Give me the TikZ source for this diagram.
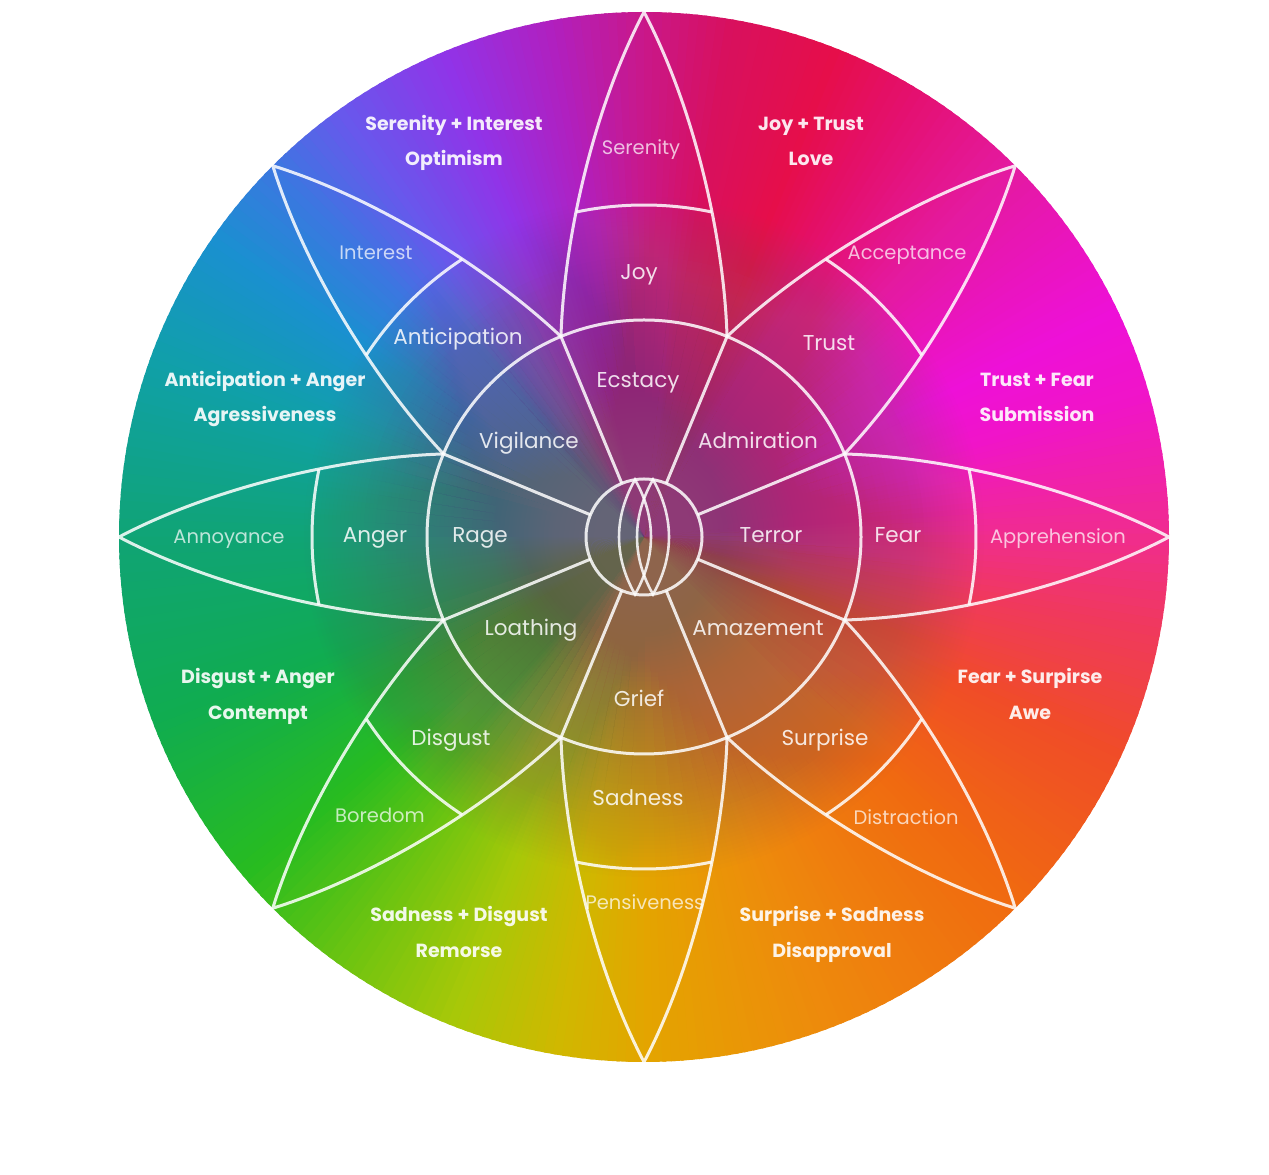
\documentclass[tikz,border=0pt]{standalone}
\usepackage{fontspec}
\setmainfont{Poppins}
\definecolor{c0}{HTML}{F02C90}
\definecolor{c15}{HTML}{F014C8}
\definecolor{c25}{HTML}{EE10D8}
\definecolor{c45}{HTML}{E41AA0}
\definecolor{c58}{HTML}{E41070}
\definecolor{c68}{HTML}{E60E4A}
\definecolor{c80}{HTML}{D8105E}
\definecolor{c90}{HTML}{C8188C}
\definecolor{c100}{HTML}{B020C0}
\definecolor{c112}{HTML}{9034E8}
\definecolor{c125}{HTML}{6858EC}
\definecolor{c135}{HTML}{3A78E0}
\definecolor{c145}{HTML}{1A90D0}
\definecolor{c160}{HTML}{10A0A8}
\definecolor{c180}{HTML}{10A474}
\definecolor{c200}{HTML}{10AC50}
\definecolor{c220}{HTML}{28BC20}
\definecolor{c235}{HTML}{70C410}
\definecolor{c248}{HTML}{A8C808}
\definecolor{c260}{HTML}{D0B800}
\definecolor{c270}{HTML}{E4A400}
\definecolor{c290}{HTML}{EE8A0C}
\definecolor{c315}{HTML}{F06A10}
\definecolor{c335}{HTML}{F04C28}
\definecolor{c350}{HTML}{F03860}
% smoothed hues for the blended centre
\definecolor{s0}{HTML}{F03870}
\definecolor{s45}{HTML}{E8208A}
\definecolor{s90}{HTML}{C02890}
\definecolor{s135}{HTML}{5060D0}
\definecolor{s180}{HTML}{10A080}
\definecolor{s225}{HTML}{50B030}
\definecolor{s270}{HTML}{E0A010}
\definecolor{s315}{HTML}{F06020}
\definecolor{cmix}{HTML}{8E6476}
\tikzset{
  wl/.style={draw=white, draw opacity=0.85, line width=3pt},
  lbl/.style={text=white, inner sep=0pt, anchor=mid, yshift=-5pt},
  outerlbl/.style={lbl, text opacity=0.9, font=\bfseries\fontsize{19}{23}\selectfont},
  petlbl/.style={lbl, text opacity=0.72, font=\fontsize{19.5}{23}\selectfont},
  midlbl/.style={lbl, text opacity=0.85, font=\fontsize{21.5}{26}\selectfont},
}
\begin{document}
\begin{tikzpicture}[x=1pt,y=1pt]
\useasboundingbox (0,0) rectangle (1269,1175);
\fill[white] (0,0) rectangle (1269,1175);
\begin{scope}[shift={(644,638)}]
  % conic colour wheel
  \foreach \a/\b/\ca/\cb in {0/15/c0/c15, 15/25/c15/c25, 25/45/c25/c45, 45/58/c45/c58,
      58/68/c58/c68, 68/80/c68/c80, 80/90/c80/c90, 90/100/c90/c100, 100/112/c100/c112,
      112/125/c112/c125, 125/135/c125/c135, 135/145/c135/c145, 145/160/c145/c160,
      160/180/c160/c180, 180/200/c180/c200, 200/220/c200/c220, 220/235/c220/c235,
      235/248/c235/c248, 248/260/c248/c260, 260/270/c260/c270, 270/290/c270/c290,
      290/315/c290/c315, 315/335/c315/c335, 335/350/c335/c350, 350/360/c350/c0}{
    \pgfmathtruncatemacro\n{\b-\a-1}
    \foreach \k in {0,...,\n}{
      \pgfmathsetmacro\p{100*\k/(\b-\a)}
      \pgfmathsetmacro\ang{\a+\k}
      \colorlet{wc}{\cb!\p!\ca}
      \fill[wc] (0,0) -- (\ang:525) arc[start angle=\ang, end angle=\ang+1.4, radius=525] -- cycle;
    }
  }
  % smoothed hues towards the centre
  \foreach \i in {1,...,26}{
    \pgfmathsetmacro\rr{\i*280/26}
    \foreach \a/\ca/\cb in {0/s0/s45, 45/s45/s90, 90/s90/s135, 135/s135/s180,
        180/s180/s225, 225/s225/s270, 270/s270/s315, 315/s315/s0}{
      \foreach \k in {0,...,14}{
        \pgfmathsetmacro\p{100*\k/15}
        \pgfmathsetmacro\ang{\a+3*\k}
        \colorlet{wc}{\cb!\p!\ca}
        \fill[wc, opacity=0.048] (0,0) -- (\ang:\rr) arc[start angle=\ang, end angle=\ang+3, radius=\rr] -- cycle;
      }
    }
  }
  % muted centre
  \foreach \i in {1,...,85}{
    \fill[cmix, opacity=0.0162] (0,0) circle[radius=4*\i];
  }
  \foreach \i in {1,...,30}{
    \fill[cmix, opacity=0.0242] (0,0) circle[radius=5*\i];
  }
  % circles and spokes
  \draw[wl] (0,0) circle[radius=217];
  \draw[wl] (0,0) circle[radius=58];
  \foreach \t in {22.5,67.5,...,337.5}{
    \draw[wl] (\t:58) -- (\t:217);
  }
  % petals and dividers
  \foreach \pa in {0,45,...,315}{
    \begin{scope}[rotate=\pa]
      \draw[wl] (200.48,83.04) .. controls (300,80) and (430,50) .. (525,0)
                .. controls (430,-50) and (300,-80) .. (200.48,-83.04);
      \draw[wl] (-11.8:332) arc[start angle=-11.8, end angle=11.8, radius=332];
    \end{scope}
  }
  % central lenses
  \foreach \cx in {-9,9}{
    \draw[wl, line width=2.6pt] (\cx,57.3) .. controls (\cx-21.3,20) and (\cx-21.3,-20) .. (\cx,-57.3)
          .. controls (\cx+21.3,-20) and (\cx+21.3,20) .. (\cx,57.3) -- cycle;
  }
  % outer combination labels
  \node[outerlbl] (o1a) at (-190,414) {Serenity + Interest};
  \node[outerlbl] (o1b) at (-190,379) {Optimism};
  \node[outerlbl] (o2a) at (167,414) {Joy + Trust};
  \node[outerlbl] (o2b) at (167,379) {Love};
  \node[outerlbl] (o3a) at (-379,158) {Anticipation + Anger};
  \node[outerlbl] (o3b) at (-379,123) {Agressiveness};
  \node[outerlbl] (o4a) at (393,158) {Trust + Fear};
  \node[outerlbl] (o4b) at (393,123) {Submission};
  \node[outerlbl] (o5a) at (-386,-139) {Disgust + Anger};
  \node[outerlbl] (o5b) at (-386,-175) {Contempt};
  \node[outerlbl] (o6a) at (386,-139) {Fear + Surpirse};
  \node[outerlbl] (o6b) at (386,-175) {Awe};
  \node[outerlbl] (o7a) at (-185,-377) {Sadness + Disgust};
  \node[outerlbl] (o7b) at (-185,-413) {Remorse};
  \node[outerlbl] (o8a) at (188,-377) {Surprise + Sadness};
  \node[outerlbl] (o8b) at (188,-413) {Disapproval};
  % petal tip labels
  \node[petlbl] (p1) at (-3,390) {Serenity};
  \node[petlbl] (p2) at (-268,285) {Interest};
  \node[petlbl] (p3) at (263,285) {Acceptance};
  \node[petlbl] (p4) at (-415,1) {Annoyance};
  \node[petlbl] (p5) at (414,1) {Apprehension};
  \node[petlbl] (p6) at (-264,-278) {Boredom};
  \node[petlbl] (p7) at (1,-365) {Pensiveness};
  \node[petlbl] (p8) at (262,-280) {Distraction};
  % petal middle labels
  \node[midlbl] (m1) at (-5,265) {Joy};
  \node[midlbl] (m2) at (-186,200) {Anticipation};
  \node[midlbl] (m3) at (185,194) {Trust};
  \node[midlbl] (m4) at (-269,2) {Anger};
  \node[midlbl] (m5) at (254,2) {Fear};
  \node[midlbl] (m6) at (-193,-201) {Disgust};
  \node[midlbl] (m7) at (-6,-261) {Sadness};
  \node[midlbl] (m8) at (181,-201) {Surprise};
  % inner labels
  \node[midlbl] (i1) at (-6,157) {Ecstacy};
  \node[midlbl] (i2) at (-115,96) {Vigilance};
  \node[midlbl] (i3) at (114,96) {Admiration};
  \node[midlbl] (i4) at (-164,2) {Rage};
  \node[midlbl] (i5) at (127,2) {Terror};
  \node[midlbl] (i6) at (-113,-91) {Loathing};
  \node[midlbl] (i7) at (114,-91) {Amazement};
  \node[midlbl] (i8) at (-5,-162) {Grief};
\end{scope}
\end{tikzpicture}
\end{document}
